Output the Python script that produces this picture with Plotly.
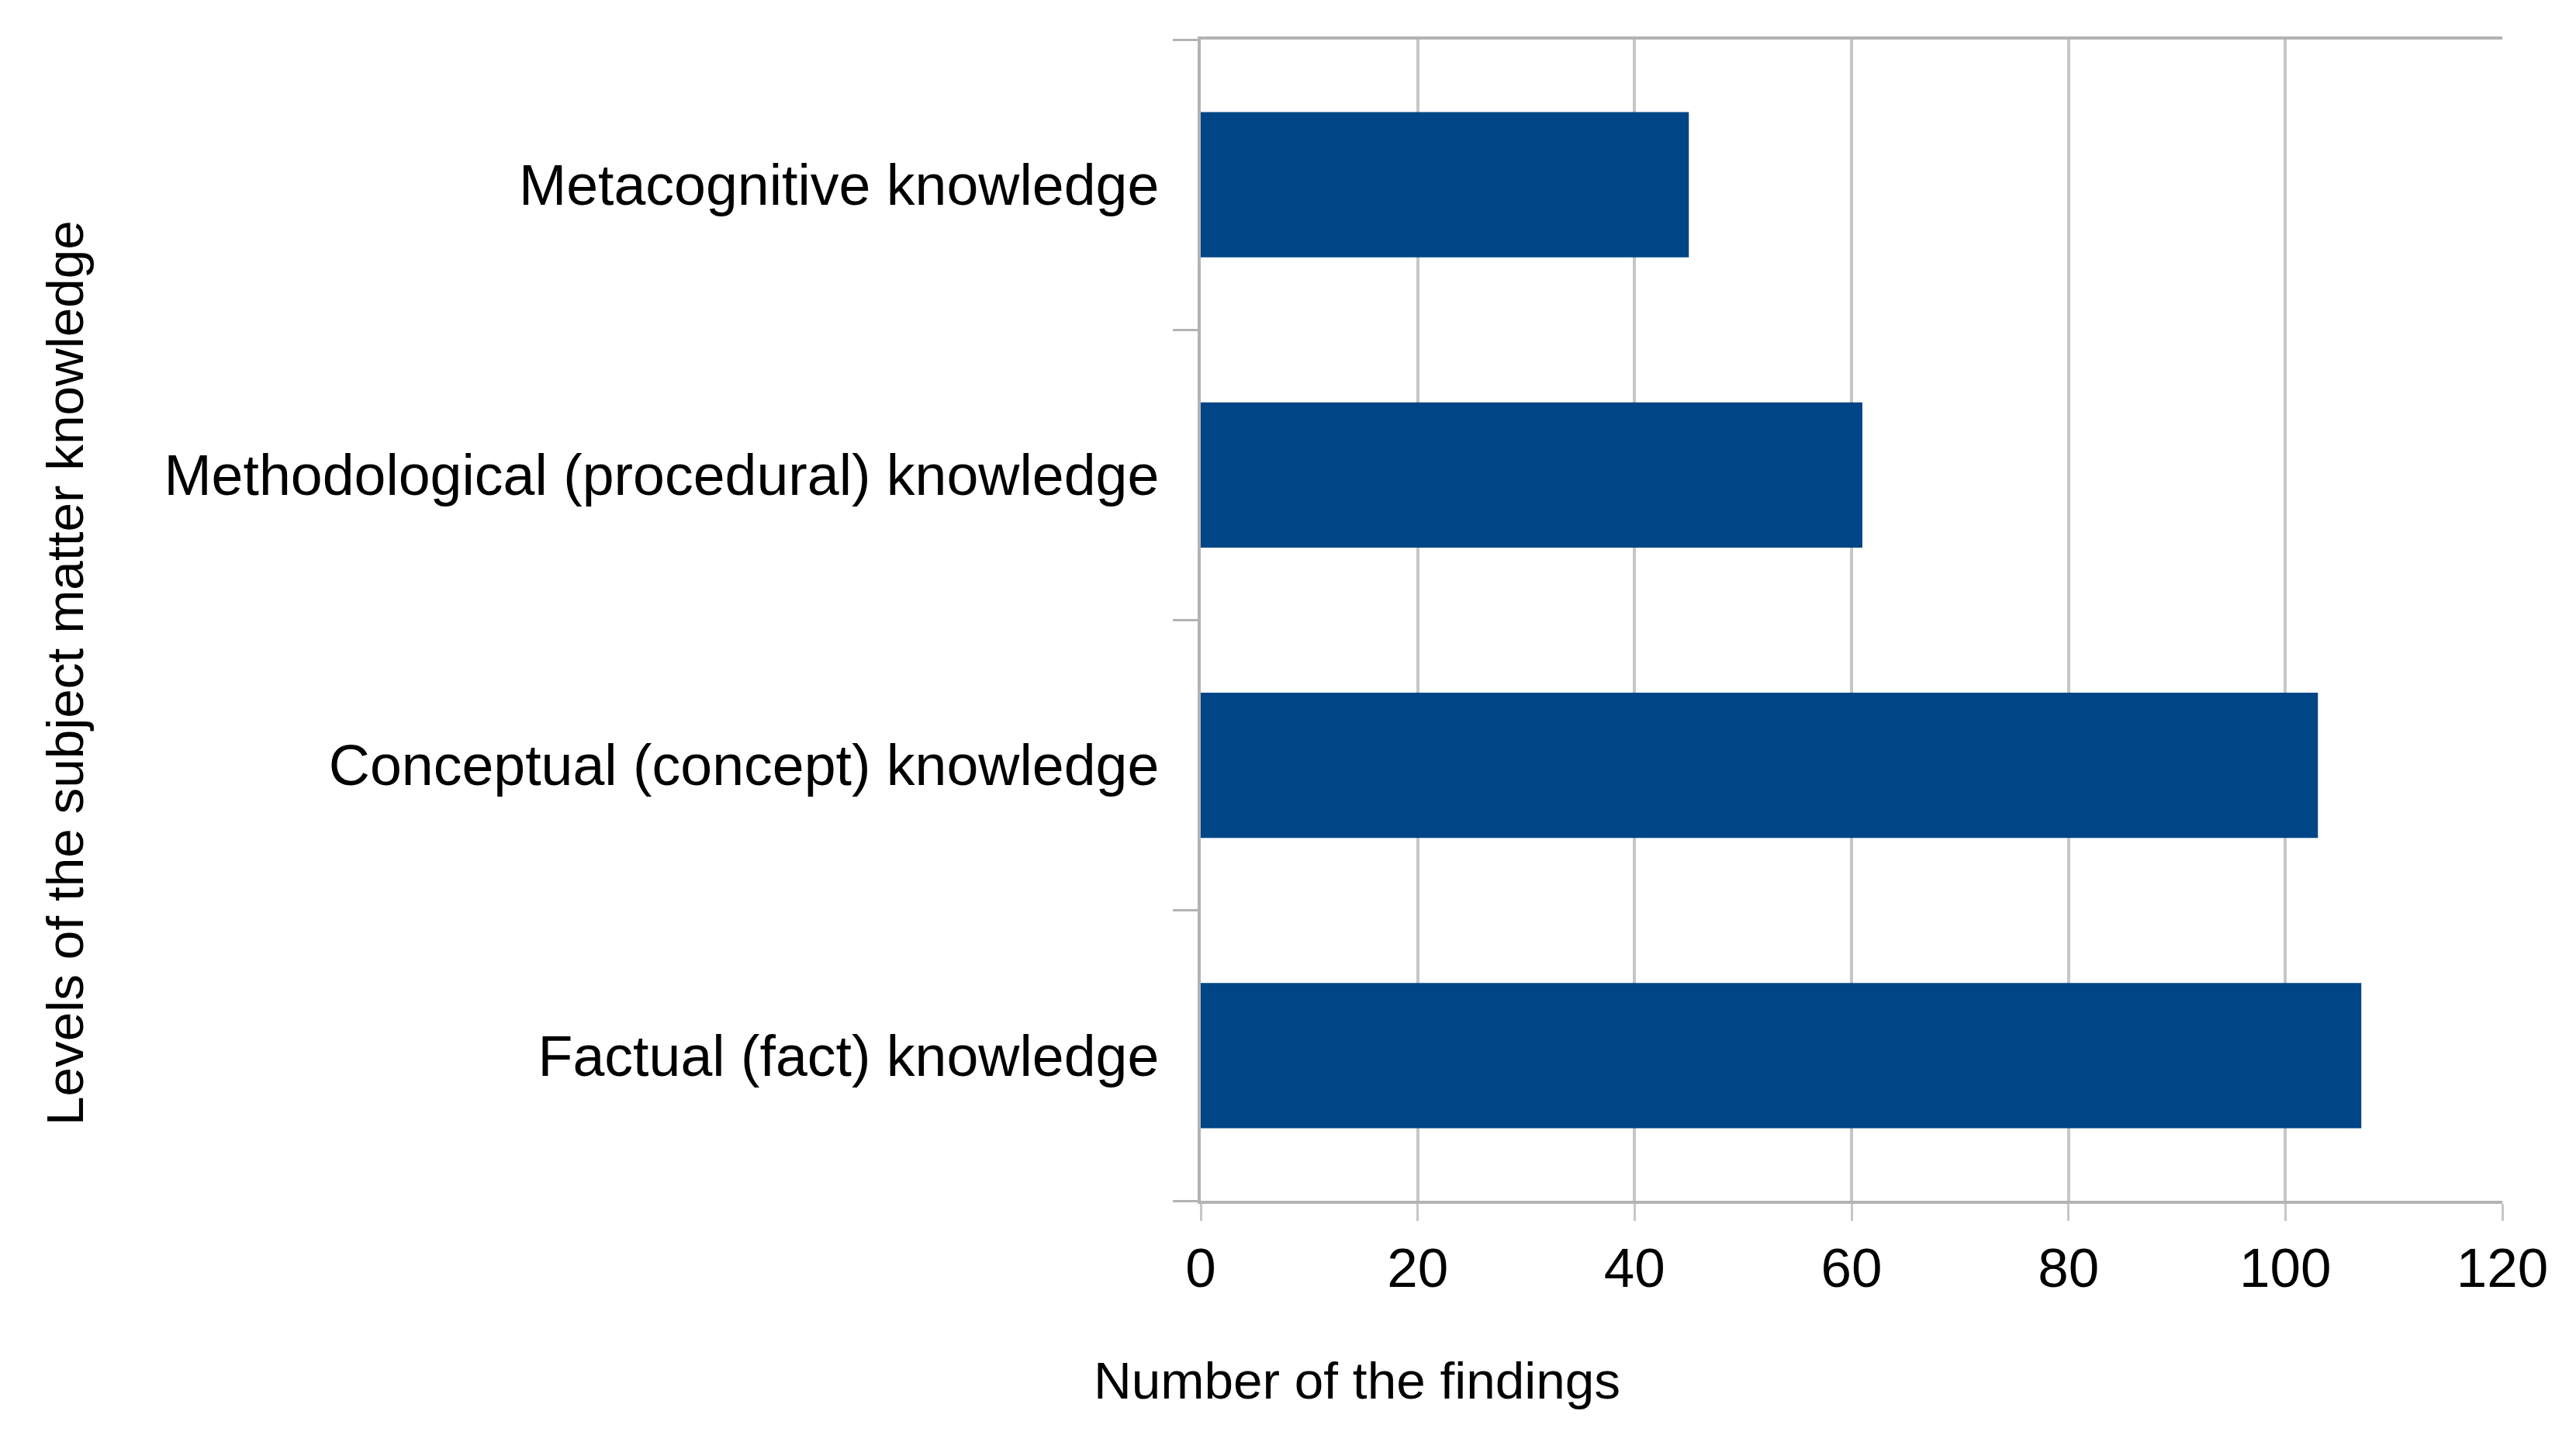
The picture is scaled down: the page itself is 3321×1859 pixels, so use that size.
import plotly.graph_objects as go

categories = [
    "Factual (fact) knowledge",
    "Conceptual (concept) knowledge",
    "Methodological (procedural) knowledge",
    "Metacognitive knowledge",
]
findings = [107, 103, 61, 45]
x_ticks = [0, 20, 40, 60, 80, 100, 120]

FONT = "Liberation Sans, Arial, sans-serif"
GRID = "#c6c6c6"
AXIS = "#b3b3b3"

W, H = 3321, 1859
ML, MR, MT, MB = 1540, 103, 43, 319
PW = W - ML - MR
PH = H - MT - MB


def px_to_paper(px, py):
    return (px - ML) / PW, (H - MB - py) / PH


fig = go.Figure(
    go.Bar(
        x=findings,
        y=categories,
        orientation="h",
        marker=dict(color="#004586", line=dict(width=0)),
        showlegend=False,
    )
)

fig.update_layout(
    width=W,
    height=H,
    paper_bgcolor="white",
    plot_bgcolor="white",
    margin=dict(l=ML, r=MR, t=MT, b=MB, autoexpand=False),
    bargap=0.5,
    font=dict(family=FONT, color="#000000", size=72),
)

fig.update_xaxes(
    range=[0, 120],
    tickvals=x_ticks,
    ticktext=[str(v) for v in x_ticks],
    showgrid=True,
    gridcolor=GRID,
    gridwidth=4,
    zeroline=False,
    showline=True,
    linecolor=AXIS,
    linewidth=4,
    mirror=True,
    ticks="outside",
    ticklen=22,
    tickwidth=3,
    tickcolor=GRID,
    tickfont=dict(size=71, family=FONT, color="#000000"),
)

fig.update_yaxes(
    showgrid=False,
    zeroline=False,
    showline=True,
    linecolor=AXIS,
    linewidth=4,
    ticks="outside",
    tickson="boundaries",
    ticklen=32,
    tickwidth=3,
    tickcolor=AXIS,
    tickfont=dict(size=73.5, family=FONT, color="#000000"),
    ticklabelstandoff=35,
    automargin=False,
)

xt_x, xt_y = px_to_paper(1741, 1771)
yt_x, yt_y = px_to_paper(75, 860)

fig.add_annotation(
    text="Number of the findings",
    xref="paper", yref="paper", x=xt_x, y=xt_y,
    xanchor="center", yanchor="middle", showarrow=False,
    font=dict(size=67.5, family=FONT, color="#000000"),
)
fig.add_annotation(
    text="Levels of the subject matter knowledge",
    xref="paper", yref="paper", x=yt_x, y=yt_y,
    xanchor="center", yanchor="middle", showarrow=False, textangle=-90,
    font=dict(size=67.5, family=FONT, color="#000000"),
)

fig.write_html("out.html")
